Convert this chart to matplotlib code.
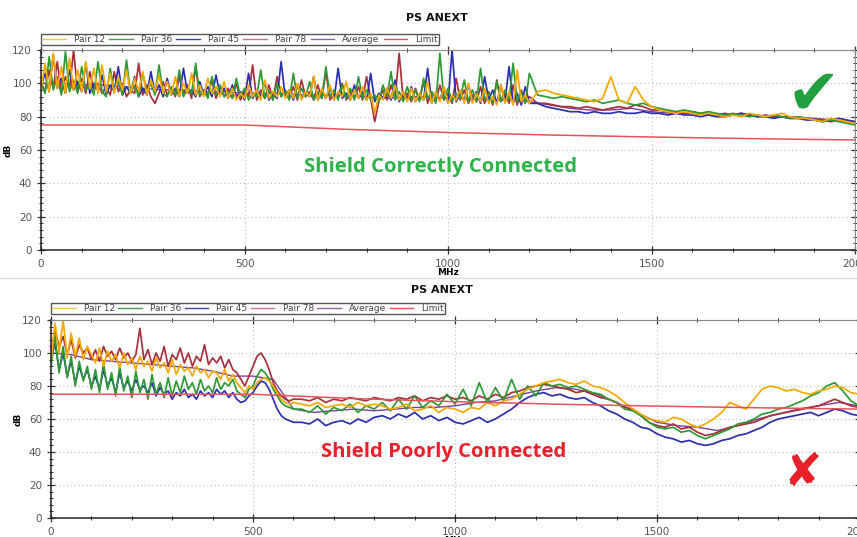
import numpy as np
import matplotlib
matplotlib.use("Agg")
import matplotlib.pyplot as plt
from matplotlib.lines import Line2D
from matplotlib.ticker import MultipleLocator

# ---------------- data (dB) ----------------
# top chart: 0..1200 MHz every 10 MHz, then 1220..2000 every 20 MHz
top_freq = np.concatenate([np.arange(0, 1201, 10), np.arange(1220, 2001, 20)])

top_pair12 = [
    96, 112, 95, 118, 97, 110, 94, 115, 96, 108, 95, 113, 97, 109, 94, 111,
    95, 106, 94, 104, 96, 108, 94, 103, 95, 107, 93, 102, 95, 105, 94,
    101, 93, 104, 92, 100, 94, 106, 93, 99, 92, 103, 94, 98, 92, 101,
    91, 97, 90, 94, 91, 99, 92, 96, 90, 102, 91, 95, 92, 98, 91,
    96, 91, 100, 90, 95, 92, 104, 90, 97, 91, 99, 90, 95, 92, 101,
    90, 96, 91, 98, 90, 94, 82, 93, 90, 97, 91, 99, 90, 95, 89,
    97, 89, 94, 90, 101, 88, 95, 89, 98, 88, 93, 90, 96, 88, 100,
    88, 94, 89, 97, 88, 92, 87, 99, 88, 95, 87, 108, 89, 93, 88,
    95, 96, 94, 93, 92, 91, 90, 89, 91, 104, 90, 88, 98, 90, 86, 84, 83, 82, 83, 82,
    81, 82, 81, 80, 81, 80, 82, 81, 80, 81, 82, 80, 79, 79, 78, 77, 79, 78, 77, 76,
]
top_pair36 = [
    100, 94, 116, 96, 104, 93, 119, 95, 102, 94, 110, 96, 99, 93, 113, 95,
    92, 109, 95, 101, 93, 114, 94, 99, 92, 106, 95, 100, 93, 111, 94,
    92, 98, 93, 108, 92, 97, 94, 112, 93, 96, 91, 104, 93, 99, 92,
    95, 91, 103, 92, 97, 90, 94, 92, 108, 91, 96, 90, 100, 92, 95,
    90, 106, 91, 97, 92, 101, 90, 95, 91, 110, 92, 96, 90, 99, 91,
    97, 90, 104, 91, 96, 90, 93, 89, 99, 92, 107, 90, 95, 89, 98,
    90, 96, 89, 103, 91, 95, 88, 118, 90, 97, 89, 94, 91, 102, 89,
    96, 89, 109, 90, 94, 88, 101, 89, 96, 90, 112, 89, 95, 88, 106,
    93, 92, 91, 92, 91, 90, 89, 90, 88, 89, 90, 88, 87, 88, 86, 85, 84, 83, 84, 83,
    82, 83, 82, 81, 82, 81, 80, 81, 80, 81, 80, 79, 80, 79, 78, 77, 78, 77, 76, 75,
]
top_pair45 = [
    98, 106, 95, 117, 97, 103, 94, 108, 96, 101, 95, 112, 94, 100, 96, 105,
    93, 99, 95, 110, 93, 98, 94, 104, 92, 97, 93, 107, 94, 99, 92,
    103, 93, 97, 92, 109, 94, 96, 92, 101, 93, 98, 92, 105, 93, 97,
    91, 99, 92, 95, 90, 106, 91, 96, 92, 101, 90, 94, 91, 113, 92,
    96, 90, 99, 91, 94, 92, 104, 90, 95, 91, 98, 90, 109, 91, 94,
    90, 99, 91, 95, 90, 106, 89, 94, 91, 97, 90, 102, 89, 95, 90,
    98, 89, 93, 90, 109, 88, 95, 90, 97, 88, 120, 89, 94, 90, 99,
    89, 95, 88, 104, 90, 96, 88, 99, 89, 110, 88, 94, 87, 98, 88,
    88, 86, 85, 84, 83, 83, 82, 83, 82, 82, 83, 82, 82, 83, 82, 82, 81, 82, 81, 81,
    80, 81, 80, 80, 81, 82, 81, 80, 80, 79, 80, 79, 79, 78, 78, 77, 78, 79, 78, 77,
]
top_pair78 = [
    101, 95, 108, 97, 113, 94, 104, 96, 120, 95, 103, 94, 107, 96, 100, 94,
    98, 93, 107, 95, 100, 92, 96, 94, 112, 93, 99, 92, 88, 94, 101,
    93, 97, 92, 104, 93, 99, 91, 110, 92, 96, 93, 102, 91, 98, 92,
    97, 91, 100, 90, 95, 92, 111, 90, 96, 91, 99, 90, 104, 92, 96,
    91, 98, 90, 102, 92, 95, 90, 99, 91, 107, 90, 94, 92, 100, 90,
    95, 91, 98, 90, 104, 91, 77, 89, 96, 90, 99, 91, 118, 90, 94,
    89, 97, 90, 101, 88, 95, 89, 99, 90, 94, 88, 103, 90, 96, 88,
    93, 89, 98, 88, 95, 87, 102, 89, 94, 88, 99, 87, 96, 89, 92,
    88, 88, 87, 86, 86, 85, 86, 85, 84, 85, 86, 85, 87, 86, 84, 84, 83, 83, 82, 83,
    82, 82, 81, 82, 81, 82, 81, 80, 81, 80, 80, 79, 79, 79, 78, 78, 77, 78, 77, 77,
]
# average is smoother, read every 50 MHz
avg_freq = np.arange(0, 2001, 50)
top_average = [100, 100, 99, 99, 98, 97, 96, 96, 95, 95, 94, 94, 94, 93, 93, 93,
               92, 91, 92, 92, 91, 91, 90, 90, 89, 87, 85, 84, 84, 85, 83, 82,
               82, 81, 81, 81, 80, 80, 79, 78, 77]

# bottom chart: 0..600 MHz every 10 MHz, then 620..2000 every 20 MHz
bot_freq = np.concatenate([np.arange(0, 601, 10), np.arange(620, 2001, 20)])

bot_pair12 = [
    95, 118, 100, 120, 97, 112, 98, 109, 96, 104, 99,
    94, 103, 92, 101, 95, 99, 91, 100, 93, 97,
    90, 98, 92, 95, 89, 97, 91, 94, 88, 96,
    87, 93, 89, 91, 86, 92, 88, 90, 85, 89,
    88, 84, 90, 83, 87, 82, 79, 76, 80, 78,
    82, 84, 85, 83, 80, 76, 72, 70, 69, 70,
    69, 68, 70, 67, 68, 69, 67, 70, 68, 69,
    68, 66, 67, 69, 65, 66, 68, 64, 67, 66,
    64, 67, 66, 70, 68, 71, 72, 75, 78, 80,
    82, 83, 84, 82, 81, 83, 80, 79, 77, 74,
    70, 66, 63, 60, 59, 58, 61, 60, 57, 55,
    57, 60, 64, 70, 68, 66, 72, 78, 80, 79,
    77, 78, 76, 75, 77, 78, 80, 79, 76, 75,
]
bot_pair36 = [
    92, 110, 88, 104, 85, 98, 80, 95, 83, 92, 78,
    90, 76, 94, 78, 88, 74, 92, 77, 86, 73,
    89, 76, 84, 72, 87, 75, 82, 73, 85, 74,
    83, 76, 86, 78, 82, 75, 84, 77, 80, 76,
    85, 78, 82, 80, 84, 77, 75, 73, 78, 80,
    86, 90, 88, 84, 78, 74, 70, 68, 67, 66,
    66, 64, 68, 63, 67, 65, 69, 64, 68, 66,
    70, 65, 72, 66, 74, 67, 71, 68, 75, 69,
    78, 68, 82, 70, 79, 71, 84, 72, 80, 74,
    82, 80, 81, 79, 80, 78, 76, 75, 72, 70,
    66, 65, 62, 58, 55, 54, 55, 52, 53, 50,
    48, 50, 52, 54, 57, 58, 60, 63, 64, 66,
    67, 69, 71, 74, 76, 80, 82, 77, 71, 68,
]
bot_pair45 = [
    96, 106, 90, 100, 86, 95, 82, 92, 84, 90, 80,
    86, 78, 90, 80, 85, 76, 88, 79, 83, 77,
    84, 78, 80, 76, 82, 74, 79, 75, 77, 72,
    76, 74, 78, 73, 75, 72, 77, 74, 76, 73,
    78, 75, 77, 73, 76, 72, 70, 71, 74, 76,
    80, 83, 82, 78, 72, 66, 62, 60, 59, 58,
    58, 57, 60, 56, 58, 59, 57, 60, 58, 61,
    62, 60, 63, 61, 64, 60, 62, 59, 61, 58,
    57, 59, 61, 58, 60, 63, 66, 70, 73, 75,
    76, 74, 75, 73, 72, 73, 70, 68, 65, 63,
    60, 58, 55, 54, 51, 49, 48, 46, 47, 45,
    44, 45, 47, 48, 50, 51, 53, 55, 58, 60,
    61, 62, 63, 64, 62, 64, 66, 65, 63, 62,
]
bot_pair78 = [
    100, 114, 104, 110, 99, 108, 97, 105, 100, 103, 96,
    102, 95, 104, 98, 101, 96, 103, 97, 100, 95,
    99, 115, 96, 102, 93, 100, 95, 104, 92, 99,
    96, 103, 94, 100, 92, 98, 95, 105, 93, 97,
    94, 98, 91, 96, 90, 88, 84, 80, 86, 92,
    98, 100, 96, 90, 82, 77, 74, 72, 71, 72,
    72, 71, 73, 70, 72, 71, 73, 72, 71, 73,
    72, 71, 73, 72, 74, 71, 73, 72, 74, 72,
    73, 71, 74, 72, 75, 73, 76, 77, 79, 80,
    81, 80, 79, 78, 76, 77, 75, 73, 72, 70,
    67, 66, 62, 58, 56, 55, 57, 54, 55, 52,
    50, 51, 53, 55, 56, 57, 58, 60, 62, 63,
    64, 65, 66, 67, 68, 70, 72, 70, 68, 67,
]
bot_average = [100, 99, 96, 95, 94, 93, 92, 91, 89, 86, 86, 84, 66, 64, 65, 66,
               65, 66, 67, 67, 68, 70, 71, 74, 77, 79, 78, 75, 70, 64, 58, 56,
               55, 53, 56, 60, 63, 66, 68, 70, 68]

limit_freq = [0, 500, 750, 1000, 1250, 1500, 1750, 2000]
limit_db = [75, 75, 72.4, 70.5, 69.0, 67.8, 66.8, 66.0]

labels = ["Pair 12", "Pair 36", "Pair 45", "Pair 78", "Average", "Limit"]
colors = ["#f5a800", "#2f9a35", "#2b2fb0", "#a8303c", "#7b3f98", "#e8505a"]
legend_colors = ["#f0c850", "#4a9a4a", "#4040b8", "#d07080", "#9060a8", "#e8505a"]

W, H = 857.0, 537.0


def draw_panel(fig, rect, freq, pairs, average, title, title_xy, legend_rect):
    ax = fig.add_axes(rect)
    # draw order: average, 78, 45, 36, 12 on top
    ax.plot(avg_freq, average, color=colors[4], lw=1.0)
    for i in [3, 2, 1, 0]:
        ax.plot(freq, pairs[i], color=colors[i], lw=1.25)
    ax.plot(limit_freq, limit_db, color=colors[5], lw=1.1)

    ax.set_xlim(0, 2000)
    ax.set_ylim(0, 120)
    ax.xaxis.set_major_locator(MultipleLocator(500))
    ax.xaxis.set_minor_locator(MultipleLocator(100))
    ax.yaxis.set_major_locator(MultipleLocator(20))
    ax.yaxis.set_minor_locator(MultipleLocator(4))
    ax.tick_params(which="both", direction="inout", top=True, right=True,
                   labelsize=7.5, labelcolor="#555555", color="#333333")
    ax.tick_params(which="major", length=6, width=0.9)
    ax.tick_params(which="minor", length=3.5, width=0.7)
    ax.grid(True, which="major", ls=(0, (1, 2.5)), color="#bbbbbb", lw=0.8)
    for s in ["left", "bottom"]:
        ax.spines[s].set_color("#222222")
        ax.spines[s].set_linewidth(1.1)
    for s in ["top", "right"]:
        ax.spines[s].set_color("#888888")
        ax.spines[s].set_linewidth(0.8)
    ax.set_xlabel("MHz", fontsize=6.5, fontweight="bold", labelpad=-1)
    ax.set_ylabel("dB", fontsize=6.5, fontweight="bold")
    ax.yaxis.set_label_coords(-28 / (rect[2] * W), 0.5)

    fig.text(title_xy[0], title_xy[1], title, ha="center", va="center",
             fontsize=8, fontweight="bold", color="#111111")

    handles = [Line2D([], [], color=c, lw=1.0) for c in legend_colors]
    fig.legend(handles, labels, loc="lower left", bbox_to_anchor=legend_rect,
               mode="expand", ncol=6, fontsize=6.5, frameon=True, fancybox=False,
               edgecolor="#555555", framealpha=1, borderpad=0.12, borderaxespad=0,
               handlelength=2.6, handletextpad=0.9, columnspacing=1.0,
               labelcolor="#444444")
    return ax


fig = plt.figure(figsize=(8.57, 5.37), dpi=100)

draw_panel(fig, [41 / W, 1 - 250 / H, 814 / W, 200 / H], top_freq,
           [top_pair12, top_pair36, top_pair45, top_pair78], top_average,
           "PS ANEXT", (437 / W, 1 - 18 / H),
           (41 / W, 1 - 45 / H, 398 / W, 9 / H))

draw_panel(fig, [51 / W, 1 - 518 / H, 808 / W, 198 / H], bot_freq,
           [bot_pair12, bot_pair36, bot_pair45, bot_pair78], bot_average,
           "PS ANEXT", (442 / W, 1 - 290 / H),
           (51 / W, 1 - 314 / H, 394 / W, 9 / H))

# separator between the two screenshots
fig.add_artist(Line2D([0, 1], [1 - 278 / H, 1 - 278 / H], color="#dddddd", lw=1.0))

fig.text(441 / W, 1 - 167 / H, "Shield Correctly Connected", ha="center", va="center",
         fontsize=14.6, fontweight="bold", color="#2db34a", family="Open Sans")
fig.text(444 / W, 1 - 452 / H, "Shield Poorly Connected", ha="center", va="center",
         fontsize=14.6, fontweight="bold", color="#ee1f2a", family="Open Sans")
fig.text(813 / W, 1 - 95 / H, "\u2714", ha="center", va="center",
         fontsize=46, color="#22a040")
fig.text(803 / W, 1 - 473 / H, "\u2718", ha="center", va="center",
         fontsize=33, color="#e8202a")

fig.savefig("out.png", dpi=100)
